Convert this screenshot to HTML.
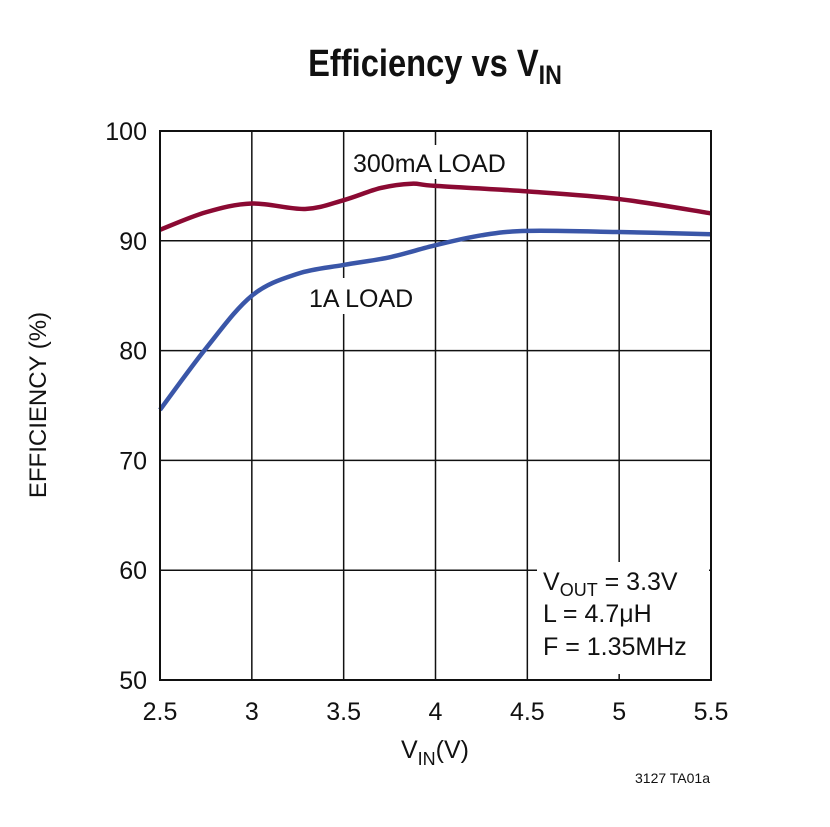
<!DOCTYPE html>
<html><head><meta charset="utf-8"><style>
body{margin:0;background:#fff;}
svg text{font-family:"Liberation Sans Narrow","Liberation Sans",sans-serif;fill:#111;}
</style></head><body>
<svg id="chart" width="830" height="822" viewBox="0 0 830 822" xmlns="http://www.w3.org/2000/svg">
<text transform="translate(435,76) scale(0.86,1)" text-anchor="middle" font-size="38" font-weight="bold">Efficiency vs V<tspan font-size="27" dy="8">IN</tspan></text>
<g id="grid"></g>
<g id="ticks"></g>
<g id="series"></g>
<rect x="347" y="145" width="170" height="34" fill="#fff"/>
<text x="353" y="172" font-size="25">300mA LOAD</text>
<rect x="305" y="278" width="108" height="36" fill="#fff"/>
<text x="309" y="307" font-size="25">1A LOAD</text>
<rect x="537" y="562" width="172" height="112" fill="#fff"/>
<text x="543" y="590" font-size="25">V<tspan font-size="18" dy="6">OUT</tspan><tspan dy="-6"> = 3.3V</tspan></text>
<text x="543" y="622" font-size="25">L = 4.7μH</text>
<text x="543" y="655" font-size="25">F = 1.35MHz</text>
<text transform="translate(46,405) rotate(-90)" text-anchor="middle" font-size="24">EFFICIENCY (%)</text>
<text x="435" y="758" text-anchor="middle" font-size="25">V<tspan font-size="18" dy="7">IN</tspan><tspan dy="-7">(V)</tspan></text>
<text x="710" y="783" text-anchor="end" font-size="14">3127 TA01a</text>
<rect x="160" y="131" width="551" height="549" fill="none" stroke="#111" stroke-width="2"/>
</svg>
<script>
const xTicks=[2.5,3,3.5,4,4.5,5,5.5];
const yTicks=[50,60,70,80,90,100];
const xTickLabels=["2.5","3","3.5","4","4.5","5","5.5"];
const yTickLabels=["50","60","70","80","90","100"];
const vin300=[2.5,2.75,3.0,3.29,3.5,3.7,3.87,4.0,4.5,5.0,5.5];
const eff300=[91.0,92.6,93.4,92.9,93.7,94.8,95.2,95.0,94.5,93.8,92.5];
const vin1A=[2.5,2.75,3.0,3.25,3.5,3.75,4.0,4.25,4.5,5.0,5.5];
const eff1A=[74.6,80.2,85.0,87.0,87.8,88.5,89.6,90.5,90.9,90.8,90.6];
const X0=160,X1=711,Y0=680,Y1=131;
function sx(v){return X0+(v-2.5)/3*(X1-X0);}
function sy(v){return Y0-(v-50)/50*(Y0-Y1);}
const NS="http://www.w3.org/2000/svg";
const grid=document.getElementById('grid'),ticks=document.getElementById('ticks'),series=document.getElementById('series');
xTicks.forEach((t,i)=>{
  const l=document.createElementNS(NS,'line');
  
  
  l.setAttribute('x1',sx(t));l.setAttribute('x2',sx(t));l.setAttribute('y1',Y1);l.setAttribute('y2',Y0);
  l.setAttribute('stroke','#111');l.setAttribute('stroke-width','1.5');grid.appendChild(l);
  const tx=document.createElementNS(NS,'text');
  
  
  tx.setAttribute('x',sx(t));tx.setAttribute('y',720);tx.setAttribute('text-anchor','middle');tx.setAttribute('font-size','25');
  tx.textContent=xTickLabels[i];ticks.appendChild(tx);
});
yTicks.forEach((t,i)=>{
  const l=document.createElementNS(NS,'line');
  
  
  l.setAttribute('x1',X0);l.setAttribute('x2',X1);l.setAttribute('y1',sy(t));l.setAttribute('y2',sy(t));
  l.setAttribute('stroke','#111');l.setAttribute('stroke-width','1.5');grid.appendChild(l);
  const tx=document.createElementNS(NS,'text');
  
  
  tx.setAttribute('x',147);tx.setAttribute('y',sy(t)+9);tx.setAttribute('text-anchor','end');tx.setAttribute('font-size','25');
  tx.textContent=yTickLabels[i];ticks.appendChild(tx);
});
function smooth(xs,ys){
  const p=xs.map((x,i)=>[sx(x),sy(ys[i])]);
  let d='M'+p[0][0]+','+p[0][1];
  for(let i=0;i<p.length-1;i++){
    const a=p[Math.max(i-1,0)],b=p[i],c=p[i+1],e=p[Math.min(i+2,p.length-1)];
    const c1=[b[0]+(c[0]-a[0])/6,b[1]+(c[1]-a[1])/6],c2=[c[0]-(e[0]-b[0])/6,c[1]-(e[1]-b[1])/6];
    d+=' C'+c1+' '+c2+' '+c;
  }
  return d;
}
const p1=document.createElementNS(NS,'path');


p1.setAttribute('d',smooth(vin300,eff300));p1.setAttribute('fill','none');p1.setAttribute('stroke','#8b0a33');p1.setAttribute('stroke-width','4.5');
series.appendChild(p1);
const p2=document.createElementNS(NS,'path');


p2.setAttribute('d',smooth(vin1A,eff1A));p2.setAttribute('fill','none');p2.setAttribute('stroke','#3a56a8');p2.setAttribute('stroke-width','4.5');
series.appendChild(p2);
</script>
</body></html>
